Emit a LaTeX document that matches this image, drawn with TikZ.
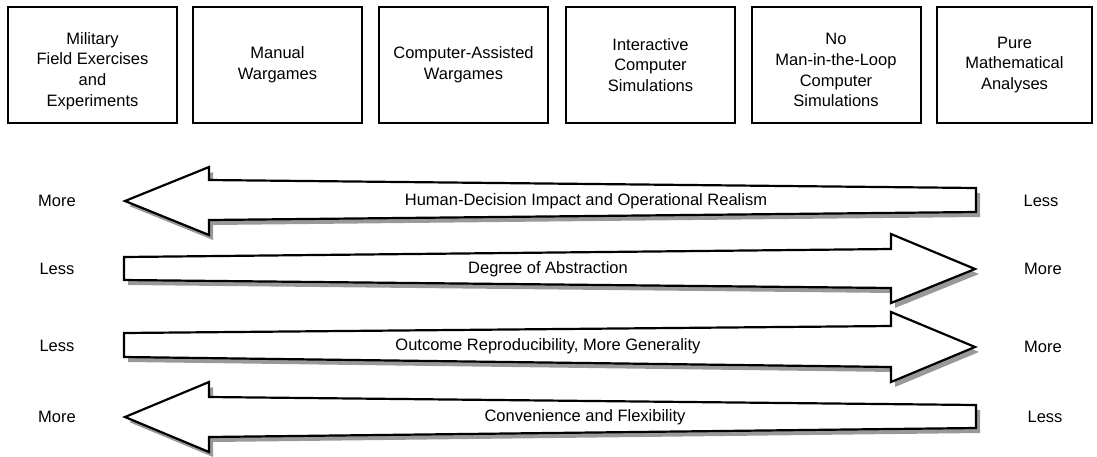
\documentclass[tikz,border=0pt]{standalone}
\usepackage{fontspec}
\setmainfont{Liberation Sans}

\newcommand{\bigarrow}[1]{%
  \begin{scope}[shift={(4,5)}]
    \fill[black!40] #1;
  \end{scope}
  \draw[line width=2.2pt,fill=white] #1;}

\tikzset{
  txt/.style={font=\fontsize{16.5}{20.7}\selectfont}
}

\begin{document}
\begin{tikzpicture}[x=1pt,y=-1pt,every node/.style={txt}]

  \useasboundingbox (0,0) rectangle (1097,456);

  \begin{scope}[every node/.style={txt,draw,line width=2pt,minimum width=169pt,
      minimum height=116pt,align=center}]
    \node (mil) at (92.5,65)  {\rule{0pt}{24pt}Military\\Field Exercises\\and\\Experiments};
    \node (man) at (277.5,65) {Manual\\Wargames};
    \node (cas) at (463.5,65) {Computer-Assisted\\Wargames};
    \node (ics) at (650.5,65) {Interactive\\Computer\\Simulations};
    \node (nml) at (836,65)   {\rule{0pt}{22pt}No\\Man-in-the-Loop\\Computer\\Simulations};
    \node[minimum width=155pt] (pma) at (1014.5,65) {Pure\\Mathematical\\Analyses};
  \end{scope}

  \bigarrow{(125,201) -- (209,167) -- (209,180) -- (976,188) -- (976,212)
    -- (209,220) -- (209,235) -- cycle}
  \bigarrow{(124,257) -- (891,249) -- (891,234) -- (975,269) -- (891,303)
    -- (891,288) -- (124,280) -- cycle}
  \bigarrow{(124,333) -- (891,326) -- (891,312) -- (975,347) -- (891,382)
    -- (891,367) -- (124,357) -- cycle}
  \bigarrow{(125,417) -- (209,382) -- (209,397) -- (976,405) -- (976,428)
    -- (209,437) -- (209,452) -- cycle}

  \node (hdi) at (586,201.5) {Human-Decision Impact and Operational Realism};
  \node (doa) at (548,269.5) {Degree of Abstraction};
  \node (orp) at (548,346.5) {Outcome Reproducibility, More Generality};
  \node (cfl) at (585,417.5) {Convenience and Flexibility};

  \begin{scope}[every node/.style={txt}]
    \node (l1) at (57,201)   {More};
    \node (l2) at (57,269)   {Less};
    \node (l3) at (57,346)   {Less};
    \node (l4) at (57,417)   {More};
    \node (r1) at (1041,201) {Less};
    \node (r2) at (1043,269) {More};
    \node (r3) at (1043,347) {More};
    \node (r4) at (1045,417) {Less};
  \end{scope}

\end{tikzpicture}
\end{document}
